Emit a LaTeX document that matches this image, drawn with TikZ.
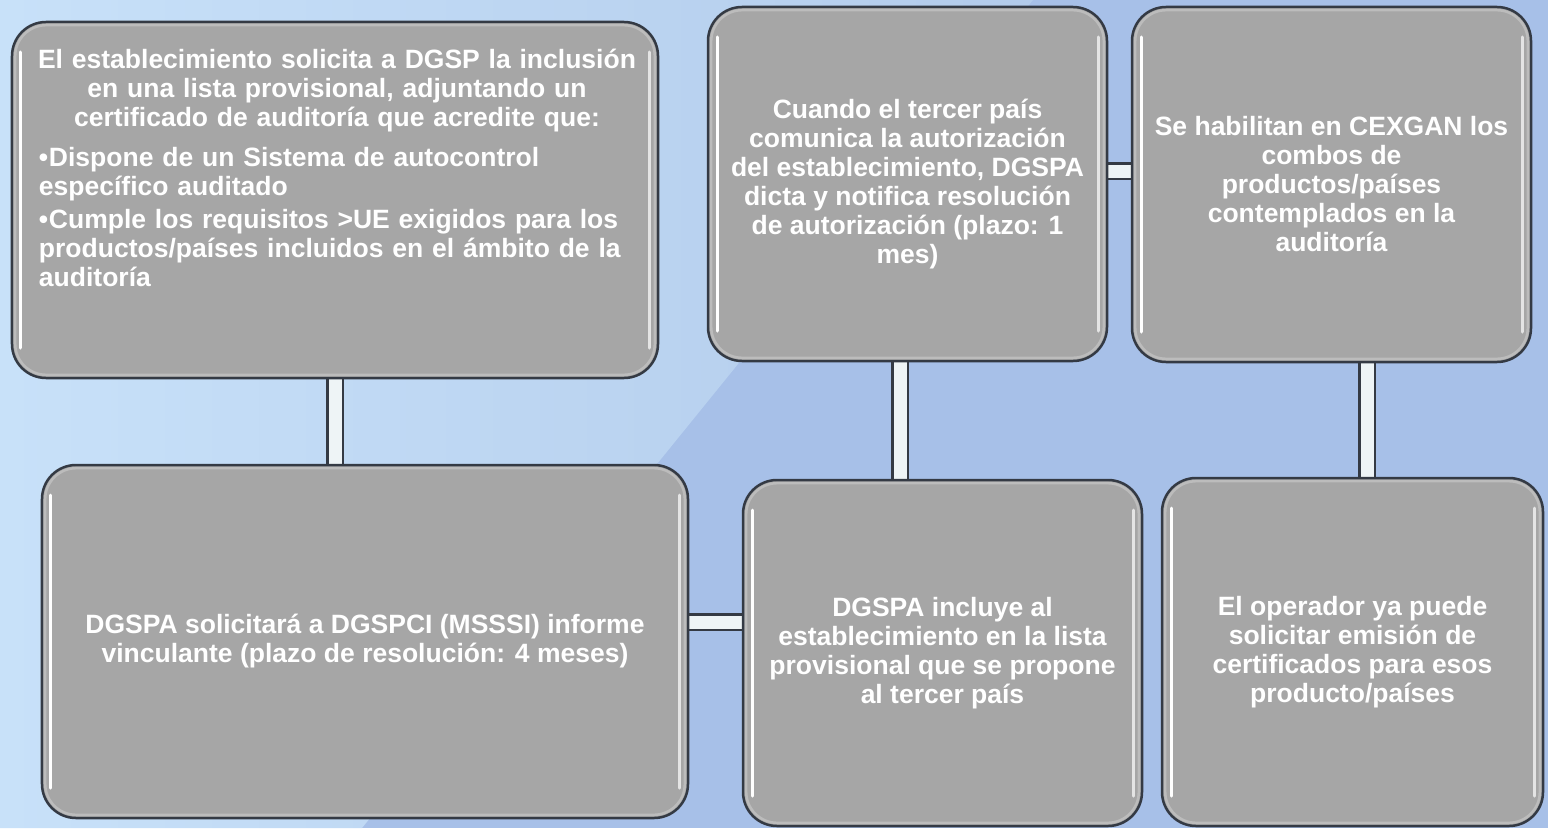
\documentclass[tikz,border=0pt]{standalone}
\usepackage{fontspec}
\setmainfont{Liberation Sans}
\usetikzlibrary{backgrounds}
\definecolor{bgdark}{RGB}{167,192,232}
\definecolor{bglight}{RGB}{200,225,249}
\definecolor{bgmid}{RGB}{178,203,235}
\definecolor{boxfill}{RGB}{166,166,166}
\definecolor{boxline}{RGB}{52,58,68}
\definecolor{connfill}{RGB}{238,244,246}
\definecolor{rimcol}{RGB}{188,188,188}
\tikzset{
  box/.style={draw=boxline, line width=2.5bp, fill=boxfill, rounded corners=34bp,
    inner sep=0pt, outer sep=0pt, text=white,
    font=\bfseries\fontsize{26.5bp}{29bp}\selectfont, align=center},
  conn/.style={draw=boxline, line width=2.5bp, double=connfill, double distance=13bp},
  rim/.style={draw=rimcol, line width=2.5bp, rounded corners=31bp},
  hl/.style={draw=white, line width=3bp, line cap=round},
  txt/.style={text=white, inner sep=0pt, font=\bfseries\fontsize{26.5bp}{29bp}\selectfont}
}
\begin{document}
\begin{tikzpicture}[x=1bp,y=-1bp]
\useasboundingbox (0,0) rectangle (1548,828);

\node[box, minimum width=646bp, minimum height=356bp] (b1) at (335,200) {};
\node[box, minimum width=646bp, minimum height=353bp] (b2) at (365,641.5)
  {DGSPA solicitará a DGSPCI (MSSSI) informe\\vinculante (plazo de resolución: 4 meses)};
\node[box, minimum width=399bp, minimum height=354bp] (b3) at (907.5,184)
  {Cuando el tercer país\\comunica la autorización\\del establecimiento, DGSPA\\dicta y notifica resolución\\de autorización (plazo: 1\\mes)};
\node[box, minimum width=399bp, minimum height=346bp] (b4) at (942.5,653)
  {DGSPA incluye al\\establecimiento en la lista\\provisional que se propone\\al tercer país};
\node[box, minimum width=399bp, minimum height=355bp] (b5) at (1331.5,184.5)
  {Se habilitan en CEXGAN los\\combos de\\productos/países\\contemplados en la\\auditoría};
\node[box, minimum width=381bp, minimum height=348bp] (b6) at (1352.5,652)
  {El operador ya puede\\solicitar emisión de\\certificados para esos\\producto/países};

\foreach \b in {b1,b2,b3,b4,b5,b6}{
  \draw[rim] ([shift={(3.2bp,-3.2bp)}]\b.north west) rectangle ([shift={(-3.2bp,3.2bp)}]\b.south east);
  \draw[hl] ([shift={(9bp,-30bp)}]\b.north west) -- ([shift={(9bp,30bp)}]\b.south west);
  \draw[hl, opacity=0.7] ([shift={(-9bp,-30bp)}]\b.north east) -- ([shift={(-9bp,30bp)}]\b.south east);
}

\node[txt, anchor=north, text width=606bp, align=left] (t1) at (337,49) {%
{\centering El establecimiento solicita a DGSP la inclusión\\ en una lista provisional, adjuntando un\\ certificado de auditoría que acredite que:\par}
\vspace{11bp}
\leftskip=5bp
\hangindent=10bp\hangafter=1\noindent\hbox to 10bp{•\hss}Dispone de un Sistema de autocontrol\\específico auditado\par
\vspace{4bp}
\hangindent=10bp\hangafter=1\noindent\hbox to 10bp{•\hss}Cumple los requisitos >UE exigidos para los\\productos/países incluidos en el ámbito de la\\auditoría\par};

\coordinate (c12) at (b1.south);
\coordinate (c24) at ([yshift=19.5bp]b2.east);
\coordinate (c34) at ([xshift=-7.5bp]b3.south);
\coordinate (c35) at ([yshift=13bp]b3.east);
\coordinate (c56) at ([xshift=35.5bp]b5.south);

\begin{scope}[on background layer]
  \fill[bgdark] (0,0) rectangle (1548,828);
  \shade[left color=bglight, right color=bgmid] (0,0) -- (1033,0) -- (362,828) -- (0,828) -- cycle;
  \draw[conn] (c12) -- (c12 |- b2.north);
  \draw[conn] (c24) -- (c24 -| b4.west);
  \draw[conn] (c34) -- (c34 |- b4.north);
  \draw[conn] (c35) -- (c35 -| b5.west);
  \draw[conn] (c56) -- (c56 |- b6.north);
\end{scope}
\end{tikzpicture}
\end{document}
